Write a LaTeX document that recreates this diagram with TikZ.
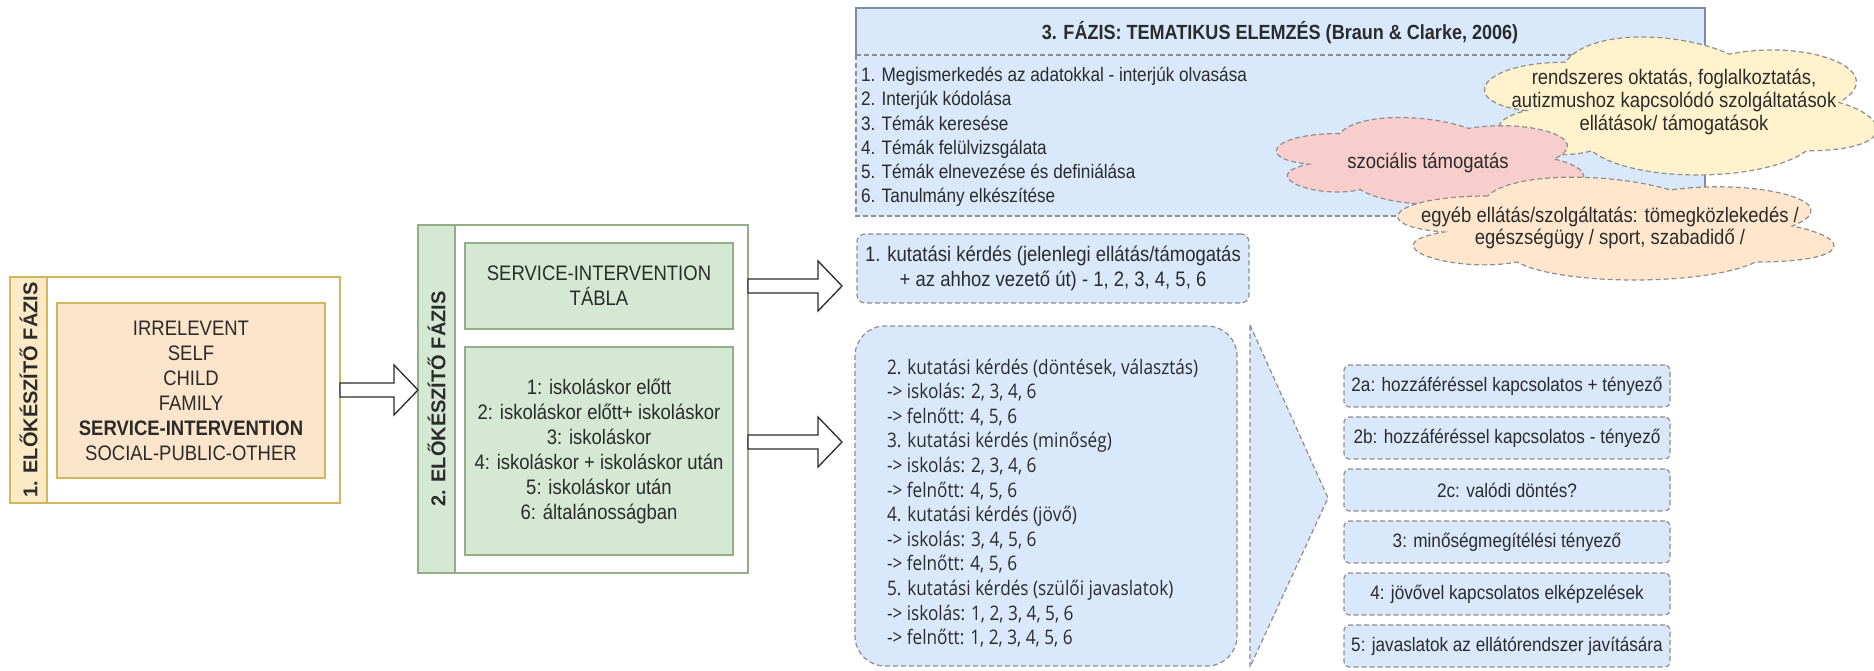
\documentclass[tikz,border=0pt]{standalone}
\usepackage{fontspec}
\setmainfont{Liberation Sans}[FakeStretch=0.88]
\newfontfamily\uprightsans{Liberation Sans}
\newfontfamily\uisans{Open Sans}[FakeStretch=0.86]
\usetikzlibrary{calc}

\definecolor{ink}{HTML}{2B2B2B}
\definecolor{peach}{HTML}{FCE5CB}
\definecolor{peachstrip}{HTML}{FCEAC6}
\definecolor{goldline}{HTML}{D2B65E}
\definecolor{sage}{HTML}{D5E8D4}
\definecolor{sageline}{HTML}{93AE86}
\definecolor{sky}{HTML}{DAE8FC}
\definecolor{skyline}{HTML}{7C8DA6}
\definecolor{dashgray}{HTML}{8E8E8E}
\definecolor{rose}{HTML}{F8CECC}
\definecolor{cream}{HTML}{FFF2CC}
\definecolor{apricot}{HTML}{FFE6CC}

\newcommand\fsz[2]{\fontsize{#1}{#2}\selectfont}

% block arrow from a start point to the x of a tip point
\newcommand\fatarrow[2]{%
  \draw[fat] let \p1=#1, \p2=#2 in
    (\x1,\y1+7pt) -- (\x2-24pt,\y1+7pt) -- (\x2-24pt,\y1+25pt) -- (\x2,\y1)
    -- (\x2-24pt,\y1-25pt) -- (\x2-24pt,\y1-7pt) -- (\x1,\y1-7pt) -- cycle;}

% cloud outline in a box given by its top-left corner, width and height
\newcommand\puffcloud[5]{%
  \begin{scope}[shift={(#2,#3)}, x=#4pt, y=-#5pt]
    \path[#1] (0.25,0.25) .. controls (0.05,0.25) and (0,0.5) .. (0.16,0.55)
      .. controls (0,0.66) and (0.18,0.9) .. (0.31,0.8)
      .. controls (0.4,1) and (0.7,1) .. (0.8,0.8)
      .. controls (1,0.8) and (1,0.6) .. (0.875,0.5)
      .. controls (1,0.3) and (0.8,0.1) .. (0.625,0.2)
      .. controls (0.5,0.05) and (0.3,0.05) .. (0.25,0.25) -- cycle;
  \end{scope}}

\tikzset{
  box/.style={draw, line width=1.2pt, inner sep=0pt, outer sep=0pt, text=ink,
    anchor=north west, align=center},
  dashbox/.style={box, draw=dashgray, fill=sky, dash pattern=on 5pt off 3pt},
  fat/.style={draw=ink, fill=white, line width=1.3pt, line join=miter},
  cloudline/.style={draw=dashgray, line width=1.2pt, dash pattern=on 5pt off 3pt},
  body/.style={font=\fsz{21}{25}},
  sidetitle/.style={rotate=90, text=ink, font=\uprightsans\bfseries\fsz{20}{24}},
  txt/.style={text=ink, inner sep=0pt, outer sep=0pt}
}

\begin{document}
\begin{tikzpicture}[x=1pt, y=-1pt]
\useasboundingbox (0,0) rectangle (1874,671);

% ---------- phase 1 ----------
\node[box, draw=goldline, fill=white, minimum width=330pt, minimum height=226pt] (p1) at (10,277) {};
\node[box, draw=goldline, fill=peachstrip, minimum width=37pt, minimum height=226pt] (p1strip) at (10,277) {};
\node[sidetitle] (p1title) at (p1strip.center) {1. ELŐKÉSZÍTŐ FÁZIS};
\node[box, draw=goldline, fill=peach, minimum width=268pt, minimum height=175pt, body] (p1list) at (57,303)
  {IRRELEVENT\\SELF\\CHILD\\FAMILY\\\textbf{SERVICE-INTERVENTION}\\SOCIAL-PUBLIC-OTHER};

% ---------- phase 2 ----------
\node[box, draw=sageline, fill=white, minimum width=330pt, minimum height=348pt] (p2) at (418,225) {};
\node[box, draw=sageline, fill=sage, minimum width=37pt, minimum height=348pt] (p2strip) at (418,225) {};
\node[sidetitle] (p2title) at (p2strip.center) {2. ELŐKÉSZÍTŐ FÁZIS};
\node[box, draw=sageline, fill=sage, minimum width=268pt, minimum height=86pt, body] (tabla) at (465,243)
  {SERVICE-INTERVENTION\\TÁBLA};
\node[box, draw=sageline, fill=sage, minimum width=268pt, minimum height=208pt, body] (periods) at (465,347)
  {1: iskoláskor előtt\\2: iskoláskor előtt+ iskoláskor\\3: iskoláskor\\4: iskoláskor + iskoláskor után\\5: iskoláskor után\\6: általánosságban};

% ---------- research questions ----------
\node[dashbox, rounded corners=8pt, minimum width=392pt, minimum height=69pt, body] (rq1) at (857,234)
  {1. kutatási kérdés (jelenlegi ellátás/támogatás\\+ az ahhoz vezető út) - 1, 2, 3, 4, 5, 6};
\node[dashbox, rounded corners=30pt, minimum width=382pt, minimum height=340pt] (rq2) at (855,326) {};
\node[txt, anchor=west, align=left, font=\uisans\fsz{20}{24.6}] (rq2text) at ([xshift=32pt,yshift=-7pt]rq2.west)
  {2. kutatási kérdés (döntések, választás)\\
   -> iskolás: 2, 3, 4, 6\\
   -> felnőtt: 4, 5, 6\\
   3. kutatási kérdés (minőség)\\
   -> iskolás: 2, 3, 4, 6\\
   -> felnőtt: 4, 5, 6\\
   4. kutatási kérdés (jövő)\\
   -> iskolás: 3, 4, 5, 6\\
   -> felnőtt: 4, 5, 6\\
   5. kutatási kérdés (szülői javaslatok)\\
   -> iskolás: 1, 2, 3, 4, 5, 6\\
   -> felnőtt: 1, 2, 3, 4, 5, 6};

% ---------- block arrows ----------
\coordinate (rowB) at (0,442);
\fatarrow{(p1.east)}{(p2.west)}
\fatarrow{(tabla.east -| p2.east)}{([xshift=-15pt]rq1.west)}
\fatarrow{(p2.east |- rowB)}{([xshift=-13pt]rq2.west)}

% ---------- splitting chevron and answer boxes ----------
\coordinate (chevtop) at (1250,325);
\coordinate (chevtip) at (1328,498);
\coordinate (chevbot) at (1250,667);
\path[fill=sky, draw=dashgray, line width=1.2pt, dash pattern=on 5pt off 3pt]
  (chevtop) -- (chevtip) -- (chevbot) -- cycle;

\tikzset{answer/.style={dashbox, rounded corners=5pt, minimum width=326pt, minimum height=42pt,
  font=\fsz{19.5}{22}}}
\node[answer] (ans2a) at (1344,365) {2a: hozzáféréssel kapcsolatos + tényező};
\node[answer] (ans2b) at (1344,417) {2b: hozzáféréssel kapcsolatos - tényező};
\node[answer] (ans2c) at (1344,469) {2c: valódi döntés?};
\node[answer] (ans3)  at (1344,521) {3: minőségmegítélési tényező};
\node[answer] (ans4)  at (1344,573) {4: jövővel kapcsolatos elképzelések};
\node[answer] (ans5)  at (1344,625) {5: javaslatok az ellátórendszer javítására};

% ---------- phase 3 ----------
\node[fill=sky, inner sep=0pt, outer sep=0pt, minimum width=849pt, minimum height=208pt, anchor=north west] (p3) at (856,8) {};
\coordinate (p3div) at (856,55);
\draw[draw=skyline, line width=1.2pt] (p3.south east) -- (p3.north east) -- (p3.north west) -- (p3div);
\draw[draw=dashgray, line width=1.2pt, dash pattern=on 5pt off 3pt] (p3div) -- (p3.south west) -- (p3.south east);
\draw[draw=dashgray, line width=1.2pt, dash pattern=on 5pt off 3pt] (p3div) -- (p3div -| p3.east);
\node[txt, font=\bfseries\fsz{20.5}{24}] (p3title) at (1280,33) {3. FÁZIS: TEMATIKUS ELEMZÉS (Braun \& Clarke, 2006)};
\node[txt, anchor=west, align=left, font=\fsz{19.5}{24.2}] (p3list) at (861,137)
  {1. Megismerkedés az adatokkal - interjúk olvasása\\
   2. Interjúk kódolása\\
   3. Témák keresése\\
   4. Témák felülvizsgálata\\
   5. Témák elnevezése és definiálása\\
   6. Tanulmány elkészítése};

% ---------- clouds ----------
\puffcloud{fill=cream, cloudline}{1456}{22}{438}{161}
\node[txt, align=center, font=\fsz{21}{23}] (cloudA) at (1674,102)
  {rendszeres oktatás, foglalkoztatás,\\autizmushoz kapcsolódó szolgáltatások\\ellátások/ támogatások};
\puffcloud{fill=rose, cloudline}{1254}{108}{343}{102}
\node[txt, font=\fsz{21}{23}] (cloudB) at (1428,163) {szociális támogatás};
\puffcloud{fill=apricot, cloudline}{1366}{166}{487}{120}
\node[txt, align=center, font=\fsz{21}{22}] (cloudC) at (1610,228)
  {egyéb ellátás/szolgáltatás: tömegközlekedés /\\egészségügy / sport, szabadidő /};
\end{tikzpicture}
\end{document}
